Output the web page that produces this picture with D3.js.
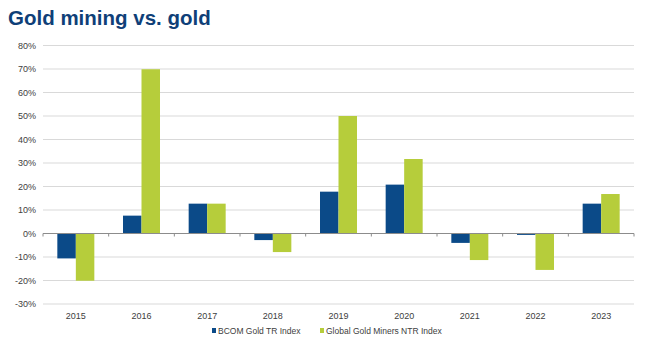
<!DOCTYPE html>
<html>
<head>
<meta charset="utf-8">
<script src="https://cdn.jsdelivr.net/npm/d3@7"></script>
<style>
  body { margin: 0; background: #fff; }
  svg text { font-family: "Liberation Sans", Arial, sans-serif; }
</style>
</head>
<body>
<div id="chart"></div>
<script>
// data
var years = ["2015","2016","2017","2018","2019","2020","2021","2022","2023"];
var seriesNames = ["BCOM Gold TR Index", "Global Gold Miners NTR Index"];
var bcomGold = [-10.6, 7.6, 12.7, -2.8, 17.8, 20.8, -4.0, -0.6, 12.7];
var goldMiners = [-20.1, 69.9, 12.7, -7.9, 50.0, 31.7, -11.3, -15.5, 16.8];
var yTicks = [-30, -20, -10, 0, 10, 20, 30, 40, 50, 60, 70, 80];
var colors = ["#0b4a88", "#b6cd3b"];

var W = 650, H = 344;
var margin = {top: 45.5, right: 16, bottom: 40, left: 43};
var width = W - margin.left - margin.right;

var svg = d3.select("#chart").append("svg")
    .attr("width", W)
    .attr("height", H);

// title
svg.append("text")
    .attr("x", 8)
    .attr("y", 25)
    .style("font-size", "20.5px")
    .style("font-weight", "bold")
    .style("fill", "#0f3f78")
    .text("Gold mining vs. gold");

var g = svg.append("g")
    .attr("transform", "translate(" + margin.left + "," + margin.top + ")");

var x = d3.scaleBand()
    .domain(years)
    .range([0, width]);

var x1 = d3.scaleBand()
    .domain([0, 1])
    .range([x.bandwidth()/2 - 18.5, x.bandwidth()/2 + 18.5]);

var y = d3.scaleLinear()
    .domain([-30, 80])
    .range([258.5, 0]);

// gridlines
g.append("g")
    .selectAll("line")
    .data(yTicks.filter(function(d){ return d !== 0; }))
    .enter().append("line")
    .attr("x1", 0)
    .attr("x2", width)
    .attr("y1", function(d){ return y(d); })
    .attr("y2", function(d){ return y(d); })
    .style("stroke", "#d9d9d9")
    .style("stroke-width", "1px");

// y labels
g.append("g")
    .selectAll("text")
    .data(yTicks)
    .enter().append("text")
    .attr("x", -7)
    .attr("y", function(d){ return y(d); })
    .attr("dy", "0.35em")
    .attr("text-anchor", "end")
    .style("font-size", "9px")
    .style("fill", "#404040")
    .text(function(d){ return d + "%"; });

var data = years.map(function(yr, i){
    return {year: yr, values: [bcomGold[i], goldMiners[i]]};
});

// bars
g.append("g")
    .selectAll("g")
    .data(data)
    .enter().append("g")
    .attr("transform", function(d){ return "translate(" + x(d.year) + ",0)"; })
    .selectAll("rect")
    .data(function(d){ return d.values.map(function(v, j){ return {k: j, v: v}; }); })
    .enter().append("rect")
    .attr("x", function(d){ return x1(d.k); })
    .attr("width", x1.bandwidth())
    .attr("y", function(d){ return y(Math.max(0, d.v)); })
    .attr("height", function(d){ return Math.abs(y(d.v) - y(0)); })
    .style("fill", function(d){ return colors[d.k]; });

// zero axis with small ticks between categories
g.append("line")
    .attr("x1", 0)
    .attr("x2", width)
    .attr("y1", y(0))
    .attr("y2", y(0))
    .style("stroke", "#8c8c8c")
    .style("stroke-width", "1px");

g.append("g")
    .selectAll("line")
    .data(years.concat(["end"]))
    .enter().append("line")
    .attr("x1", function(d, i){ return i * x.step(); })
    .attr("x2", function(d, i){ return i * x.step(); })
    .attr("y1", y(0))
    .attr("y2", y(0) + 3)
    .style("stroke", "#8c8c8c")
    .style("stroke-width", "1px");

// x labels
g.append("g")
    .selectAll("text")
    .data(years)
    .enter().append("text")
    .attr("x", function(d){ return x(d) + x.bandwidth()/2; })
    .attr("y", 273)
    .attr("text-anchor", "middle")
    .style("font-size", "9px")
    .style("fill", "#404040")
    .text(function(d){ return d; });

// legend
var legendX = [212, 320];
var legend = svg.append("g")
    .selectAll("g")
    .data(seriesNames)
    .enter().append("g")
    .attr("transform", function(d, i){ return "translate(" + legendX[i] + ",331)"; });

legend.append("rect")
    .attr("x", 0)
    .attr("y", -3)
    .attr("width", 4)
    .attr("height", 5)
    .style("fill", function(d, i){ return colors[i]; });

legend.append("text")
    .attr("x", 6)
    .attr("y", 0)
    .attr("dy", "0.35em")
    .style("font-size", "8.5px")
    .style("fill", "#404040")
    .text(function(d){ return d; });
</script>
</body>
</html>
